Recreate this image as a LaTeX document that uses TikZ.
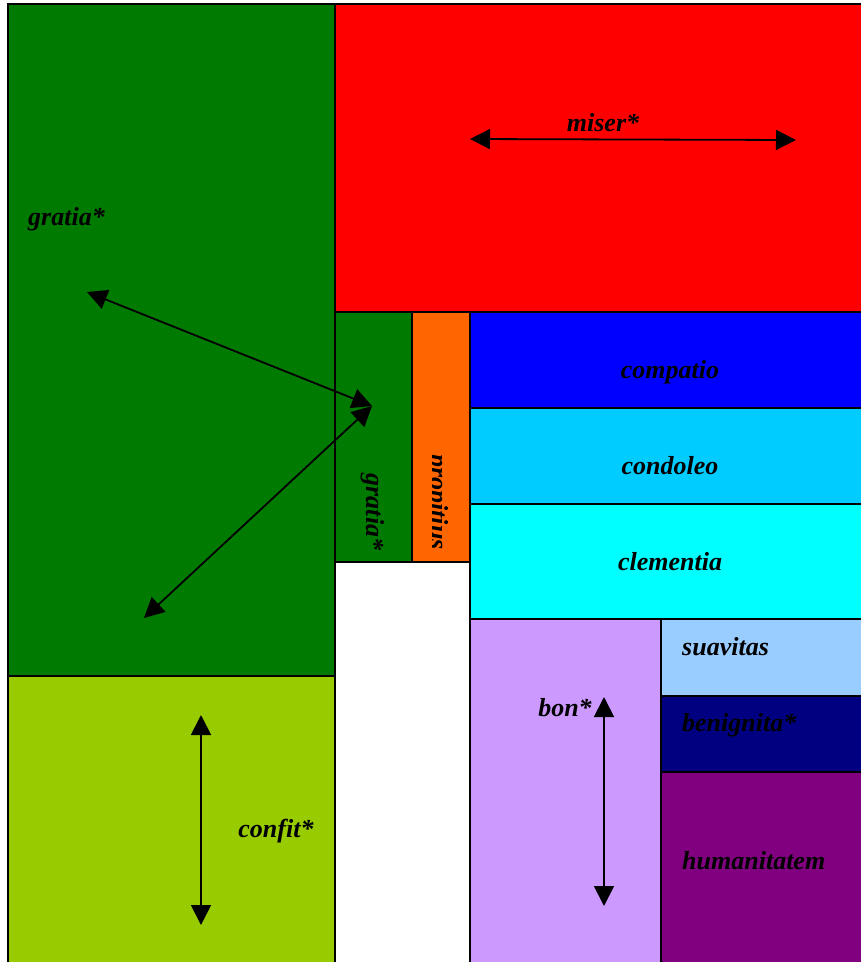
\documentclass[tikz,border=0pt]{standalone}
\usepackage{fontspec}
\setmainfont{Liberation Serif}
\usetikzlibrary{arrows.meta}
\definecolor{dgreen}{RGB}{0,122,0}
\definecolor{ygreen}{RGB}{153,204,0}
\definecolor{cred}{RGB}{255,0,0}
\definecolor{corange}{RGB}{255,102,0}
\definecolor{cblue}{RGB}{0,0,255}
\definecolor{lblue}{RGB}{0,204,255}
\definecolor{ccyan}{RGB}{0,255,255}
\definecolor{lav}{RGB}{204,153,255}
\definecolor{pblue}{RGB}{153,204,255}
\definecolor{cnavy}{RGB}{0,0,128}
\definecolor{cpurple}{RGB}{128,0,128}
\begin{document}
\begin{tikzpicture}[x=1pt,y=-1pt,
  box/.style={draw=black,line width=1.8pt,anchor=north west,inner sep=0pt,outer sep=0pt},
  lbl/.style={font=\fontsize{26}{30}\selectfont\bfseries\itshape,inner sep=0pt},
  dbl/.style={{Triangle[length=20pt,width=20pt]}-{Triangle[length=20pt,width=20pt]},line width=1.8pt}]
\useasboundingbox (0,0) rectangle (861,962);
\clip (0,0) rectangle (861,962);
% boxes
\node[box,fill=dgreen,minimum width=327pt,minimum height=672pt] (bgreen) at (8,4) {};
\node[box,fill=cred,minimum width=540pt,minimum height=308pt] (bred) at (335,4) {};
\node[box,fill=ygreen,minimum width=327pt,minimum height=300pt] (byg) at (8,676) {};
\node[box,fill=white,minimum width=135pt,minimum height=410pt] (bwhite) at (335,562) {};
\node[box,fill=dgreen,minimum width=77pt,minimum height=250pt] (bsgreen) at (335,312) {};
\node[box,fill=corange,minimum width=58pt,minimum height=250pt] (borange) at (412,312) {};
\node[box,fill=cblue,minimum width=405pt,minimum height=96pt] (bblue) at (470,312) {};
\node[box,fill=lblue,minimum width=405pt,minimum height=96pt] (blblue) at (470,408) {};
\node[box,fill=ccyan,minimum width=405pt,minimum height=115pt] (bcyan) at (470,504) {};
\node[box,fill=lav,minimum width=191pt,minimum height=360pt] (blav) at (470,619) {};
\node[box,fill=pblue,minimum width=214pt,minimum height=77pt] (bpblue) at (661,619) {};
\node[box,fill=cnavy,minimum width=214pt,minimum height=76pt] (bnavy) at (661,696) {};
\node[box,fill=cpurple,minimum width=214pt,minimum height=200pt] (bpurple) at (661,772) {};
% labels
\node[lbl,anchor=base] (tmiser) at (603,131) {miser*};
\node[lbl,anchor=base west] (tgratia) at (28,225) {gratia*};
\node[lbl,anchor=base] (tcompatio) at (670,378) {compatio};
\node[lbl,anchor=base] (tcondoleo) at (670,474) {condoleo};
\node[lbl,anchor=base] (tclementia) at (670,570) {clementia};
\node[lbl,anchor=base west] (tsuavitas) at (682,655) {suavitas};
\node[lbl,anchor=base west] (tbenignita) at (682,731) {benignita*};
\node[lbl,anchor=base west] (thumanitatem) at (682,869) {humanitatem};
\node[lbl,anchor=base] (tbon) at (565,716) {bon*};
\node[lbl,anchor=base] (tconfit) at (276,837) {confit*};
\node[lbl,rotate=-90,anchor=base] (tgratiav) at (366,512) {gratia*};
\begin{scope}
\clip (432.5,330) rectangle (468,560);
\node[lbl,rotate=-90,anchor=base] (tpropitius) at (430,502) {propitius};
\end{scope}
% arrows
\coordinate (m1) at (470,139);
\coordinate (m2) at (796,140);
\coordinate (g1) at (87,292);
\coordinate (gc) at (372,406);
\coordinate (g2) at (144,618);
\coordinate (c1) at (201,715);
\coordinate (c2) at (201,925);
\coordinate (b1) at (604,697);
\coordinate (b2) at (604,906);
\draw[dbl] (m1) -- (m2);
\draw[dbl] (g1) -- (gc);
\draw[dbl] (g2) -- (gc);
\draw[dbl] (c1) -- (c2);
\draw[dbl] (b1) -- (b2);
\end{tikzpicture}
\end{document}
